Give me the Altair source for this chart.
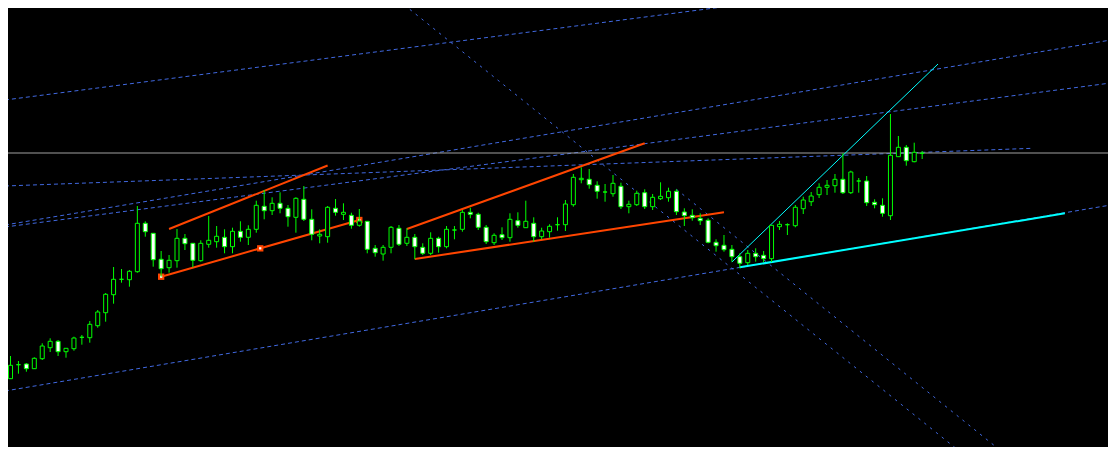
import altair as alt
import pandas as pd

# ---- candle data (price units) ----
opens = [76.3, 90.3, 91, 86.3, 96.3, 107.3, 113.7, 103.3, 106.3, 117.7,
         117.3, 129.3, 142.3, 160.3, 175.7, 175.3, 183.3, 231.7, 221.7, 195.7,
         187.3, 194.3, 216.7, 211.7, 194.3, 210.7, 213.3, 217.7, 208.3, 223.7,
         217.7, 225.7, 248.7, 244.3, 251.7, 246.7, 237.7, 255.7, 235.7, 219,
         218.3, 246.7, 240.7, 239.7, 229.7, 233.7, 206.7, 201, 207.7, 226.7,
         211.7, 217.7, 207.7, 201.7, 216.7, 208.3, 225, 225.7, 242.7, 240.7,
         227.7, 212.3, 220.3, 217.3, 234.3, 227.3, 231.7, 218.3, 223.3, 230.3,
         230.3, 250.3, 275.3, 275.7, 269.7, 263, 261.3, 268.7, 248.3, 250.3,
         262.3, 248.3, 256.3, 257.3, 263.7, 243, 239.7, 236.7, 234.7, 212.7,
         209.7, 205.7, 198.3, 192.3, 201.7, 199.7, 196.3, 228.3, 230.3, 229.3,
         246.3, 253.3, 260.3, 267.7, 269.3, 275.7, 262.3, 274, 274, 252.7,
         249.7, 239.3, 298.3, 307.7, 293.3, 301.7]
highs = [99, 94, 92, 97.7, 111.7, 116.7, 115, 106.7, 118.3, 120,
         134, 145, 162, 188, 186, 185, 249, 233.7, 221.7, 204,
         200, 226, 221, 212, 214.7, 239, 229, 225.7, 227.3, 233.7,
         229.7, 254.3, 265, 257.7, 262.7, 250, 257.7, 269, 245.7, 225.7,
         249, 256, 251.7, 242.3, 246, 233.7, 210, 210, 229, 230,
         226.7, 221, 211.7, 222.7, 218.3, 229, 229, 245, 247.3, 242.3,
         230, 221.7, 227.7, 241.7, 242.7, 254.3, 237.7, 227.3, 230.7, 237.7,
         255, 281, 287.7, 286, 273.7, 271, 280, 272.3, 254.3, 264.3,
         265.7, 261, 272.7, 267.3, 265.7, 246.7, 245.7, 241.7, 236.7, 215.7,
         220, 210, 201.7, 205, 206.7, 204, 229.7, 234, 231.7, 250,
         258.3, 263, 271.7, 275, 281, 301.7, 284.3, 277, 279, 255.7,
         256.7, 341, 319, 310, 312.3, 304]
lows = [76, 81.3, 83.3, 86, 95, 103, 99, 97.3, 104.3, 110.3,
        112.3, 127.3, 133.3, 151.3, 172.3, 168.3, 182.3, 218.3, 188.3, 178.3,
        182.3, 187.3, 205, 187.7, 193.3, 207.3, 207.3, 201.7, 201.7, 213.3,
        210, 222.3, 235.7, 240, 241.7, 228.3, 222.3, 234, 214.7, 211.7,
        212.3, 239.3, 235, 226.3, 228.3, 201.7, 198.3, 194.3, 201.7, 209,
        209, 195.7, 200, 200, 202.3, 206.7, 215.7, 223.3, 236.7, 225,
        211, 210, 215, 213.3, 227.3, 227.3, 213.3, 215.7, 217.3, 224.3,
        224, 248.3, 271.7, 266.3, 256.3, 253.3, 258.3, 246, 241.7, 249,
        246, 245, 255, 253.3, 240, 229, 234.3, 230, 211.7, 203.3,
        203.3, 193.3, 186.7, 190, 193.3, 193, 193, 225, 220, 227.7,
        241, 249, 257, 260, 262.3, 261, 261, 262.3, 249, 246.7,
        238.3, 235, 298.3, 289.3, 292.7, 296]
closes = [89.7, 90.3, 86.3, 96.7, 109, 113.7, 103.3, 106.7, 117, 117.7,
          130.7, 143, 160.7, 175.7, 175.7, 183.7, 231.7, 223.3, 195.3, 186.3,
          194.7, 216.7, 211.3, 194.7, 211.7, 214.7, 218.7, 208.3, 223.7, 217.7,
          225.7, 249.7, 244.3, 251.7, 246.7, 238.3, 256.7, 235.7, 220.7, 220.7,
          247.7, 242.7, 242.7, 229.7, 234, 205.7, 202.3, 207.7, 227.7, 210.7,
          217.7, 208.3, 201.7, 216.7, 208.3, 225.7, 225, 242.7, 240.7, 227.7,
          213.3, 219.7, 217.3, 235.7, 229.7, 233.7, 218.3, 224, 228.7, 230.3,
          251, 277.7, 276.7, 270.3, 263.7, 263, 271.7, 248.3, 250.7, 261.7,
          248.3, 257.7, 258.7, 263.7, 243.3, 239.3, 237.3, 234.3, 212.7, 209.3,
          205.3, 198.3, 191.7, 201.7, 198.3, 196.3, 229.7, 230.7, 230.3, 247.7,
          255, 259, 267.7, 269.7, 275.7, 262.3, 283, 274, 252.3, 250.3,
          241.7, 299.7, 307.7, 294.3, 302.7, 301.7]

# ---- drawn objects: (name, bar-index 1, price 1, bar-index 2, price 2) ----
dashed_shallow = [("A", -0.7, 355, 96.6, 455), ("B", -0.7, 269, 128.9, 306.7),
                  ("D", -0.7, 230, 138.8, 415), ("E", -0.7, 228, 138.8, 372),
                  ("H", -0.7, 64, 138.8, 250)]
dashed_steep = [("F", 48.9, 455, 124.3, -25.5), ("G", 84, 265.7, 126.8, -7.8)]
gray_level = [("P", -2, 302, 141, 302)]
orange_lines = [("U1", 20, 226, 40, 289.5), ("L1", 19, 178.3, 44, 235),
                ("U2", 50, 226, 80, 311.7), ("L2", 51, 196, 90, 242.7)]
cyan_thick = [("C1", 92, 187.7, 133, 241.7)]
cyan_thin = [("C2", 91, 193, 117, 391)]
anchor_idx = [19, 31.5, 44]
anchor_price = [178.3, 206.65, 235]

candles = pd.DataFrame({"i": list(range(len(opens))), "o": opens, "h": highs,
                        "l": lows, "c": closes})


def seg_df(segs):
    rows = []
    for name, x1, y1, x2, y2 in segs:
        rows.append({"name": name, "idx": x1, "p": y1, "k": 0})
        rows.append({"name": name, "idx": x2, "p": y2, "k": 1})
    return pd.DataFrame(rows)


W, H = 1100, 439
xs = alt.Scale(domain=[0.3125, 137.8125], nice=False, zero=False)
ys = alt.Scale(domain=[8, 447], nice=False, zero=False)
X = alt.X("idx:Q", scale=xs, axis=None)
Y = alt.Y("p:Q", scale=ys, axis=None)


def lines(segs, color, width, dash=None):
    kw = dict(color=color, strokeWidth=width, clip=True, strokeCap="butt")
    if dash:
        kw["strokeDash"] = dash
    return alt.Chart(seg_df(segs)).mark_line(**kw).encode(
        x=X, y=Y, detail="name:N", order="k:Q")


blue = "#4169E1"
l_shallow = lines(dashed_shallow, blue, 1, [4, 3])
l_steep = lines(dashed_steep, blue, 1, [2.5, 5])
l_gray = lines(gray_level, "#a0a0a0", 1)
l_orange = lines(orange_lines, "#FF4500", 2)
l_cyan1 = lines(cyan_thick, "#00FFFF", 2)
l_cyan2 = lines(cyan_thin, "#00FFFF", 1)

anchors = pd.DataFrame({"idx": anchor_idx, "p": anchor_price})
m_outer = alt.Chart(anchors).mark_square(size=40, color="#FF4500", opacity=1, clip=True).encode(x=X, y=Y)
m_inner = alt.Chart(anchors).mark_square(size=5, color="white", opacity=1, clip=True).encode(x=X, y=Y)

CX = alt.X("i:Q", scale=xs, axis=None)
wicks = alt.Chart(candles).mark_rule(color="#00FF00", strokeWidth=1, clip=True).encode(
    x=CX, y=alt.Y("l:Q", scale=ys, axis=None), y2="h:Q")
bodies = alt.Chart(candles).mark_bar(size=4, stroke="#00FF00", strokeWidth=1, clip=True).encode(
    x=CX, y=alt.Y("o:Q", scale=ys, axis=None), y2="c:Q",
    fill=alt.condition("datum.c > datum.o", alt.value("black"), alt.value("white")))

chart = alt.layer(l_shallow, l_steep, l_gray, l_orange, l_cyan1, l_cyan2,
                  m_outer, m_inner, wicks, bodies).properties(
    width=W, height=H, padding=0, background="black",
    autosize=alt.AutoSizeParams(type="none")
).configure_view(stroke=None, fill="black")

chart.save("out.html", embed_options={"renderer": "svg", "actions": False})
